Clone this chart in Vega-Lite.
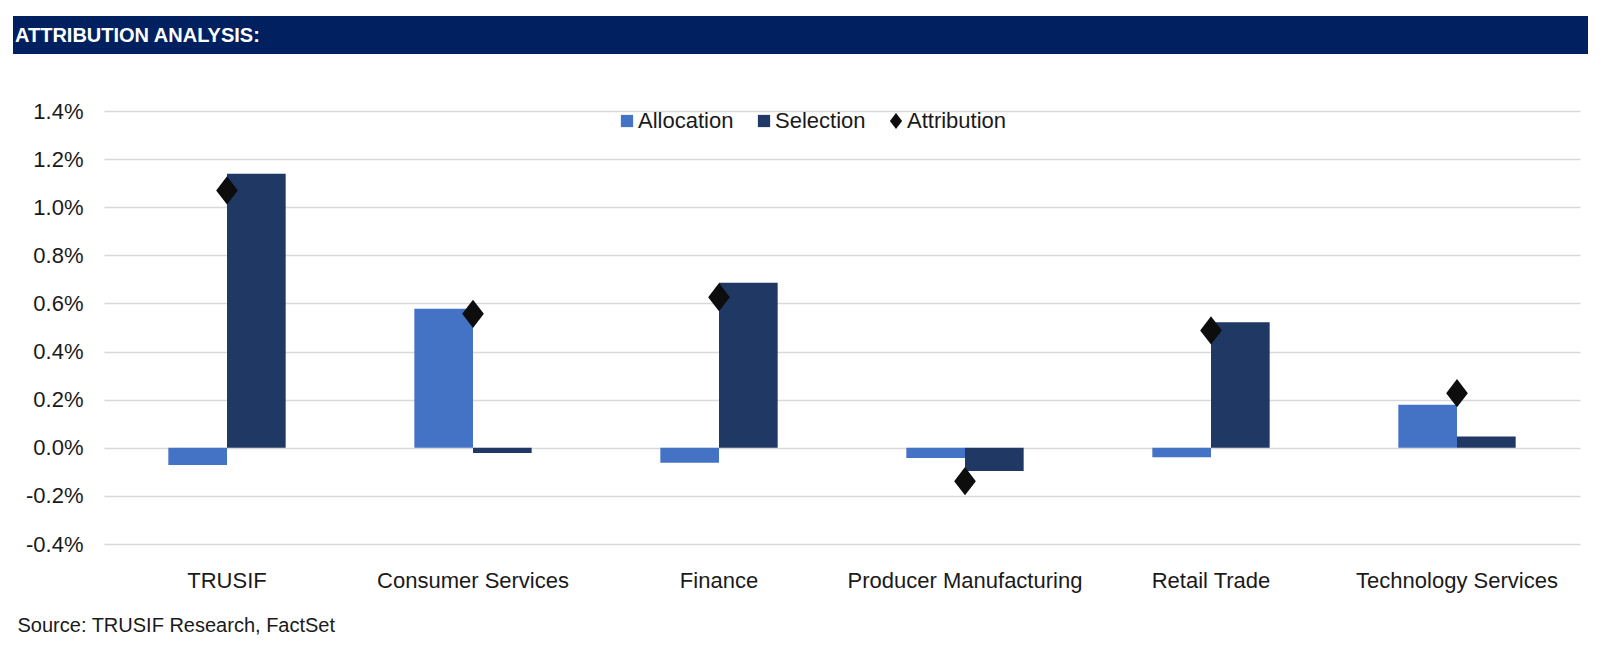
{
  "$schema": "https://vega.github.io/schema/vega-lite/v6.json",
  "background": "white",
  "padding": {"left": 13, "top": 16, "right": 0, "bottom": 0},
  "config": {
    "font": "Liberation Sans",
    "locale": {"number": {"decimal": ".", "thousands": ",", "grouping": [3], "currency": ["$", ""], "minus": "-"}},
    "view": {"stroke": null}
  },
  "datasets": {
    "rows": [
      {"category": "TRUSIF", "series": "Allocation", "value": -0.072},
      {"category": "TRUSIF", "series": "Selection", "value": 1.139},
      {"category": "TRUSIF", "series": "Attribution", "value": 1.07},
      {"category": "Consumer Services", "series": "Allocation", "value": 0.578},
      {"category": "Consumer Services", "series": "Selection", "value": -0.022},
      {"category": "Consumer Services", "series": "Attribution", "value": 0.557},
      {"category": "Finance", "series": "Allocation", "value": -0.062},
      {"category": "Finance", "series": "Selection", "value": 0.686},
      {"category": "Finance", "series": "Attribution", "value": 0.626},
      {"category": "Producer Manufacturing", "series": "Allocation", "value": -0.042},
      {"category": "Producer Manufacturing", "series": "Selection", "value": -0.097},
      {"category": "Producer Manufacturing", "series": "Attribution", "value": -0.139},
      {"category": "Retail Trade", "series": "Allocation", "value": -0.039},
      {"category": "Retail Trade", "series": "Selection", "value": 0.522},
      {"category": "Retail Trade", "series": "Attribution", "value": 0.488},
      {"category": "Technology Services", "series": "Allocation", "value": 0.179},
      {"category": "Technology Services", "series": "Selection", "value": 0.047},
      {"category": "Technology Services", "series": "Attribution", "value": 0.227}
    ],
    "header": [
      {"start": 0, "end": 1, "label": "ATTRIBUTION ANALYSIS:"}
    ]
  },
  "resolve": {"legend": {"color": "independent", "shape": "independent"}},
  "spacing": 46,
  "vconcat": [
    {
      "width": 1476,
      "height": 38,
      "data": {"name": "header"},
      "encoding": {
        "x": {
          "field": "start",
          "type": "quantitative",
          "scale": {"domain": [0, 1], "range": [-91, 1484], "nice": false, "zero": false},
          "axis": null
        }
      },
      "layer": [
        {
          "mark": {"type": "rect", "color": "#002060", "opacity": 1, "clip": false},
          "encoding": {"x2": {"field": "end"}}
        },
        {
          "mark": {
            "type": "text",
            "align": "left",
            "baseline": "middle",
            "dx": 2,
            "dy": 1,
            "color": "#ffffff",
            "font": "Liberation Sans",
            "fontSize": 20,
            "fontWeight": "bold"
          },
          "encoding": {"text": {"field": "label", "type": "nominal"}}
        }
      ]
    },
    {
      "width": 1476,
      "height": 433,
      "data": {"name": "rows"},
      "title": {
        "text": "Source: TRUSIF Research, FactSet",
        "orient": "bottom",
        "anchor": "start",
        "frame": "bounds",
        "offset": 25,
        "dx": -8,
        "color": "#1a1a1a",
        "font": "Liberation Sans",
        "fontSize": 20,
        "fontWeight": "normal"
      },
      "encoding": {
        "x": {
          "field": "category",
          "type": "nominal",
          "sort": ["TRUSIF", "Consumer Services", "Finance", "Producer Manufacturing", "Retail Trade", "Technology Services"],
          "scale": {"paddingInner": 0.523, "paddingOuter": 0.2615},
          "axis": {
            "title": null,
            "labelAngle": 0,
            "domain": false,
            "ticks": false,
            "grid": false,
            "labelPadding": 26,
            "labelFontSize": 22,
            "labelColor": "#1a1a1a",
            "labelLimit": 400
          }
        }
      },
      "layer": [
        {
          "transform": [{"filter": "datum.series !== 'Attribution'"}],
          "mark": {"type": "bar", "opacity": 1},
          "encoding": {
            "xOffset": {"field": "series", "type": "nominal", "scale": {"domain": ["Allocation", "Selection"], "paddingInner": 0, "paddingOuter": 0}},
            "y": {
              "field": "value",
              "type": "quantitative",
              "scale": {"domain": [-0.4, 1.4], "nice": false, "zero": false},
              "axis": {
                "title": null,
                "values": [-0.4, -0.2, 0, 0.2, 0.4, 0.6, 0.8, 1.0, 1.2, 1.4],
                "format": ".1f",
                "labelExpr": "datum.label + '%'",
                "domain": false,
                "ticks": false,
                "grid": true,
                "gridColor": "#d9d9d9",
                "gridWidth": 1.5,
                "labelPadding": 21,
                "labelFontSize": 22,
                "labelColor": "#1a1a1a"
              }
            },
            "color": {
              "field": "series",
              "type": "nominal",
              "scale": {"domain": ["Allocation", "Selection", "Attribution"], "range": ["#4472c4", "#203864", "#0d0d0d"]},
              "legend": {
                "title": null,
                "orient": "none",
                "direction": "horizontal",
                "legendX": 512,
                "legendY": -1,
                "padding": 0,
                "symbolSize": 150,
                "symbolStrokeWidth": 0,
                "labelFontSize": 22,
                "labelColor": "#1a1a1a",
                "labelOffset": 0,
                "columnPadding": 19
              }
            }
          }
        },
        {
          "transform": [{"filter": "datum.series === 'Attribution'"}],
          "mark": {"type": "point", "filled": true, "opacity": 1, "size": 470},
          "encoding": {
            "y": {"field": "value", "type": "quantitative"},
            "color": {"field": "series", "type": "nominal"},
            "shape": {
              "field": "series",
              "type": "nominal",
              "scale": {"domain": ["Allocation", "Selection", "Attribution"], "range": ["square", "square", "M0,-1.3L1,0L0,1.3L-1,0Z"]}
            }
          }
        }
      ]
    }
  ]
}
